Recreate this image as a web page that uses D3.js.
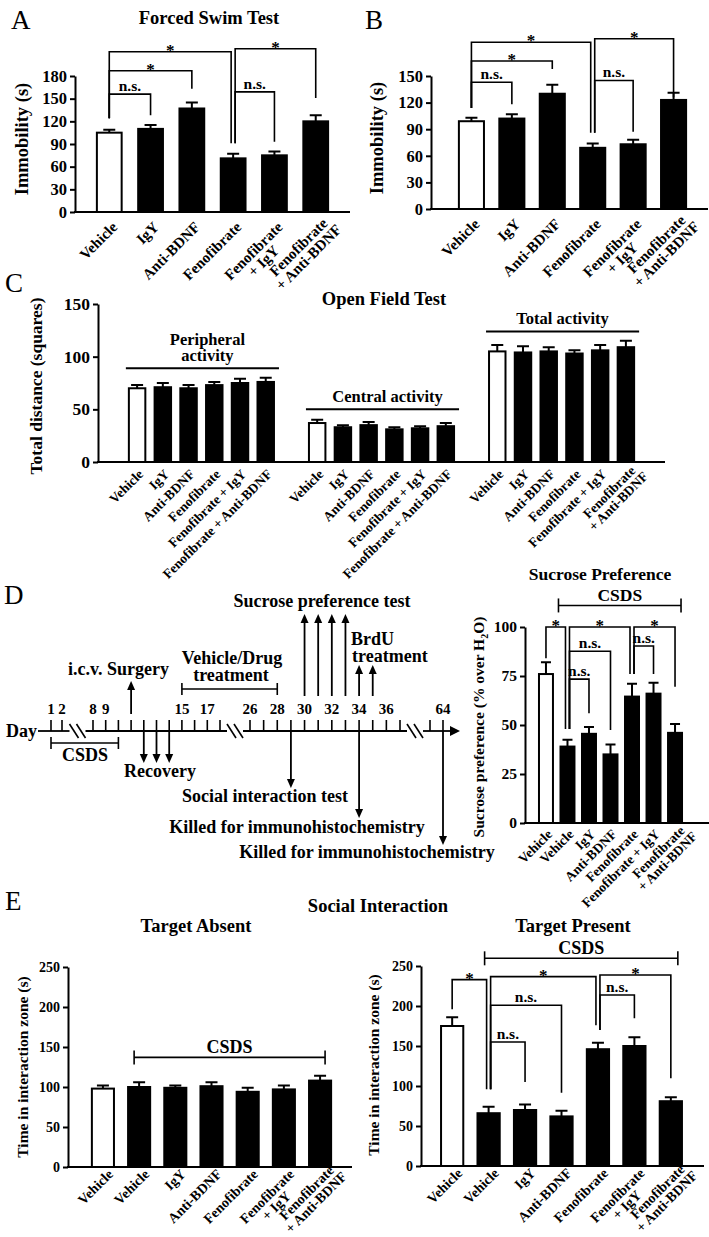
<!DOCTYPE html>
<html>
<head>
<meta charset="utf-8">
<title>Fenofibrate behaviour figure</title>
<script src="https://d3js.org/d3.v7.min.js"></script>
<style>
  body { margin: 0; background: #fff; }
  svg text { font-family: "Liberation Serif", "Times New Roman", Times, serif; font-weight: bold; fill: #000; }
  svg text.letter { font-weight: normal; }
</style>
</head>
<body>
<svg id="fig" width="709" height="1237"></svg>
<script>
// ---------- data ----------
// A / B: forced swim test
const fstLabels = ['Vehicle', 'IgY', 'Anti-BDNF', 'Fenofibrate', 'Fenofibrate\n+ IgY', 'Fenofibrate\n+ Anti-BDNF'];
const fstA = [105, 110, 137, 71, 75, 120];
const fstAErr = [4, 5, 8, 6, 5, 8];
const fstATicks = [0, 30, 60, 90, 120, 150, 180];
const fstB = [99, 102, 130, 69, 73, 123];
const fstBErr = [4, 5, 10, 5, 5, 8];
const fstBTicks = [0, 30, 60, 90, 120, 150];
// brackets: [from, to, top, left leg end, right leg end, label] (data units)
const fstABrackets = [[0, 1, 156, 124, 128, 'n.s.'], [0, 2, 187, 124, 163, '*'], [0, 3, 212, 124, 91, '*'],
                      [3, 5, 216, 91, 151, '*'], [3, 4, 159, 91, 93, 'n.s.']];
const fstBBrackets = [[0, 1, 143, 114, 118, 'n.s.'], [0, 2, 167, 114, 158, '*'], [0, 3, 188, 114, 86, '*'],
                      [3, 5, 192, 86, 126, '*'], [3, 4, 145, 86, 87, 'n.s.']];

// C: open field test
const ofLabels = ['Vehicle', 'IgY', 'Anti-BDNF', 'Fenofibrate', 'Fenofibrate + IgY', 'Fenofibrate + Anti-BDNF'];
const ofLabelsTotal = ['Vehicle', 'IgY', 'Anti-BDNF', 'Fenofibrate', 'Fenofibrate + IgY', 'Fenofibrate\n+ Anti-BDNF'];
const ofGroups = ['Peripheral\nactivity', 'Central activity', 'Total activity'];
const ofGroupLevel = [89, 50, 124];
const ofPeripheral = [70, 71, 70, 73, 75, 76];
const ofPeripheralErr = [3, 4, 3, 3, 4, 4];
const ofCentral = [37, 33, 35, 31, 32, 34];
const ofCentralErr = [3, 2, 3, 2, 2, 3];
const ofTotal = [105, 104, 105, 103, 106, 109];
const ofTotalErr = [6, 6, 4, 3, 5, 6];
const ofTicks = [0, 50, 100, 150];

// D: timeline + sucrose preference
const tlKnots = [1, 2, 8, 18, 26, 37, 63, 64];
const tlTicks = [1, 2, 8, 9, 10, 11, 12, 13, 14, 15, 16, 17, 18, 26, 27, 28, 29, 30, 31, 32, 33, 34, 35, 36, 37, 63, 64];
const tlNumbered = [1, 2, 8, 9, 15, 17, 26, 28, 30, 32, 34, 36, 64];
const tlBreaks = [[2, 8], [18, 26], [37, 63]];
const csdsDays = [1, 10];
const treatmentDays = [15, 28];
const surgeryDay = 11;
const recoveryDays = [12, 13, 14];
const sucroseDays = [30, 31, 32, 33];
const brduDays = [34, 35];
const socialDay = 29;
const killedDays = [34, 64];

const spLabels = ['Vehicle', 'Vehicle', 'IgY', 'Anti-BDNF', 'Fenofibrate', 'Fenofibrate + IgY', 'Fenofibrate\n+ Anti-BDNF'];
const sucrose = [76, 39, 45.5, 35, 64.5, 66, 46];
const sucroseErr = [6, 3.5, 3.5, 5, 6.5, 5.5, 4.5];
const spTicks = [0, 25, 50, 75, 100];
const spBrackets = [[0, 1, 100, 84, 48, '*'], [1, 4, 100, 48, 76, '*'], [4, 6, 100, 76, 69.5, '*'],
                    [1, 3, 87.6, 48, 47.5, 'n.s.'], [1, 2, 73.4, 48, 56, 'n.s.'], [4, 5, 90.3, 76, 76, 'n.s.']];

// E: social interaction
const siLabels = ['Vehicle', 'Vehicle', 'IgY', 'Anti-BDNF', 'Fenofibrate', 'Fenofibrate\n+ IgY', 'Fenofibrate\n+ Anti-BDNF'];
const siAbsent = [98, 100, 99, 101, 94, 97, 108];
const siAbsentErr = [4, 6, 3, 5, 5, 5, 6];
const siPresent = [175, 66, 70, 62, 146, 150, 81];
const siPresentErr = [11, 8, 7, 7, 8, 11, 5];
const siTicks = [0, 50, 100, 150, 200, 250];
const siBrackets = [[0, 1, 233, 196, 96, '*'], [1, 4, 236.7, 96, 176, '*'], [4, 6, 238.75, 170, 109.6, '*'],
                    [1, 3, 201, 96, 91.7, 'n.s.'], [1, 2, 155, 96, 105, 'n.s.'], [4, 5, 213.75, 170, 184.6, 'n.s.']];

// ---------- helpers ----------
const svg = d3.select('#fig');

function txt(x, y, s, size, anchor) {
  return svg.append('text').attr('x', x).attr('y', y).attr('font-size', size)
    .attr('text-anchor', anchor || 'middle').text(s);
}
function letter(x, y, s) {
  return txt(x, y, s, 27, 'start').attr('class', 'letter');
}
function yLabel(cx, cy, s, size) {
  return svg.append('text').attr('transform', `translate(${cx},${cy}) rotate(-90)`)
    .attr('text-anchor', 'middle').attr('dy', '0.35em').attr('font-size', size).text(s);
}
function hline(g, x1, x2, y, w) {
  g.append('line').attr('x1', x1).attr('x2', x2).attr('y1', y).attr('y2', y)
    .attr('stroke', '#000').attr('stroke-width', w || 2);
}
function vline(g, x, y1, y2, w) {
  g.append('line').attr('x1', x).attr('x2', x).attr('y1', y1).attr('y2', y2)
    .attr('stroke', '#000').attr('stroke-width', w || 2);
}

// rotated category labels, lines centred on each other; the first line ends at the tick
function rotLabels(g, x, items, y0, fs, dx, dy) {
  items.forEach(d => {
    const lines = d.label.split('\n');
    const c = x(d.key) + x.bandwidth() / 2;
    const lg = g.append('g').attr('transform', `translate(${c + dx},${y0 + dy}) rotate(-45)`);
    const ts = lines.map((t, i) => lg.append('text').attr('font-size', fs)
      .attr('y', i * fs * 0.95).text(t));
    const widths = ts.map(t => t.node().getComputedTextLength());
    const w = d3.max(widths);
    const shift = w - widths[0];   // longer lower line pushes the block up the slope
    ts.forEach(t => t.attr('text-anchor', 'middle').attr('x', shift - w / 2));
  });
}

function barChart(o) {
  const g = svg.append('g');
  const x = d3.scaleBand().domain(o.domain).range(o.xRange).paddingInner(o.padIn).paddingOuter(o.padOut);
  const y = d3.scaleLinear().domain([0, o.yMax]).range(o.yRange);
  const bw = x.bandwidth();
  const cx = k => x(k) + bw / 2;

  g.selectAll('path.err').data(o.items).join('path').attr('class', 'err')
    .attr('d', d => `M${cx(d.key)},${y(d.v)}V${y(d.v + d.e)}M${cx(d.key) - o.cap},${y(d.v + d.e)}h${2 * o.cap}`)
    .attr('stroke', '#000').attr('stroke-width', 2).attr('fill', 'none');
  g.selectAll('rect.bar').data(o.items).join('rect').attr('class', 'bar')
    .attr('x', d => x(d.key)).attr('y', d => y(d.v))
    .attr('width', bw).attr('height', d => y(0) - y(d.v))
    .attr('fill', d => d.open ? '#fff' : '#000').attr('stroke', '#000').attr('stroke-width', 2);

  const ya = g.append('g').attr('transform', `translate(${o.xAxis[0]},0)`)
    .call(d3.axisLeft(y).tickValues(o.ticks).tickSize(5).tickSizeOuter(0).tickPadding(3));
  ya.attr('font-size', o.tickSize);
  ya.select('.domain').attr('stroke-width', 2);
  ya.selectAll('.tick line').attr('stroke-width', 2);
  hline(g, o.xAxis[0] - 1, o.xAxis[1], y(0), 2);

  rotLabels(g, x, o.items, y(0), o.labelSize, o.labelDx, o.labelDy);
  return { g, x, y, cx };
}

function brackets(ch, keys, list) {
  const ends = new Set(list.map(b => b[1]));
  list.forEach(([i, j, top, l, r, lab]) => {
    const xl = ch.cx(keys[i]) + (ends.has(i) ? 2 : 0);
    const xr = ch.cx(keys[j]) - (list.some(b => b[0] === j) ? 2 : 0);
    ch.g.append('path').attr('d', `M${xl},${ch.y(l)}V${ch.y(top)}H${xr}V${ch.y(r)}`)
      .attr('fill', 'none').attr('stroke', '#000').attr('stroke-width', 1.6);
    const star = lab === '*';
    ch.g.append('text').attr('x', (xl + xr) / 2).attr('y', ch.y(top) + (star ? 4 : -3))
      .attr('text-anchor', 'middle').attr('font-size', star ? 17 : 15.5).text(lab);
  });
}

function rangeBracket(ch, x1, x2, v, label, fs) {
  const yy = ch.y(v);
  hline(ch.g, x1, x2, yy, 1.6);
  vline(ch.g, x1, yy - 7, yy + 7, 1.6);
  vline(ch.g, x2, yy - 7, yy + 7, 1.6);
  ch.g.append('text').attr('x', (x1 + x2) / 2).attr('y', yy - 4).attr('text-anchor', 'middle')
    .attr('font-size', fs).text(label);
}

function items(keys, labels, vals, errs) {
  return keys.map((k, i) => ({ key: k, label: labels[i], v: vals[i], e: errs[i], open: i === 0 }));
}

// ---------- A ----------
letter(11, 29, 'A');
txt(209, 24, 'Forced Swim Test', 18.5);
yLabel(22, 139, 'Immobility (s)', 18.5);
const fstKeys = fstLabels.map((d, i) => 'k' + i);
const chA = barChart({
  domain: fstKeys, items: items(fstKeys, fstLabels, fstA, fstAErr),
  xRange: [75, 350], padIn: 0.4, padOut: 0.53, xAxis: [75, 350],
  yMax: 180, yRange: [212, 76], ticks: fstATicks, tickSize: 16.5, cap: 6,
  labelSize: 15, labelDx: 9, labelDy: 16
});
brackets(chA, fstKeys, fstABrackets);

// ---------- B ----------
letter(365, 29, 'B');
yLabel(377, 138, 'Immobility (s)', 18.5);
const chB = barChart({
  domain: fstKeys, items: items(fstKeys, fstLabels, fstB, fstBErr),
  xRange: [431, 714], padIn: 0.38, padOut: 0.69, xAxis: [431, 708],
  yMax: 150, yRange: [209, 76], ticks: fstBTicks, tickSize: 16.5, cap: 6,
  labelSize: 15, labelDx: 9, labelDy: 16
});
brackets(chB, fstKeys, fstBBrackets);

// ---------- C ----------
letter(5, 292, 'C');
txt(384, 305, 'Open Field Test', 18.5);
yLabel(36, 386, 'Total distance (squares)', 17.5);
const ofSets = [[ofLabels, ofPeripheral, ofPeripheralErr], [ofLabels, ofCentral, ofCentralErr], [ofLabelsTotal, ofTotal, ofTotalErr]];
const ofDomain = [];
const ofItems = [];
ofSets.forEach(([labs, vals, errs], gi) => {
  if (gi > 0) ofDomain.push('gap' + gi);
  labs.forEach((l, i) => {
    const k = 'g' + gi + '_' + i;
    ofDomain.push(k);
    ofItems.push({ key: k, label: l, v: vals[i], e: errs[i], open: i === 0 });
  });
});
const chC = barChart({
  domain: ofDomain, items: ofItems,
  xRange: [98, 665], padIn: 0.36, padOut: 1.2, xAxis: [98, 665],
  yMax: 150, yRange: [462, 304], ticks: ofTicks, tickSize: 17.5, cap: 6,
  labelSize: 13.5, labelDx: 7, labelDy: 13
});
ofGroups.forEach((name, gi) => {
  const x1 = chC.x('g' + gi + '_0') - 3;
  const x2 = chC.x('g' + gi + '_5') + chC.x.bandwidth() + 5;
  const yy = chC.y(ofGroupLevel[gi]);
  hline(chC.g, x1, x2, yy, 2);
  const lines = name.split('\n');
  lines.forEach((l, li) => {
    chC.g.append('text').attr('x', (x1 + x2) / 2 + (gi < 2 ? 5 : 0))
      .attr('y', yy - 7 - (lines.length - 1 - li) * 16.5).attr('text-anchor', 'middle')
      .attr('font-size', 16.5).text(l);
  });
});

// ---------- D timeline ----------
letter(4, 604, 'D');
(function timeline() {
  const g = svg.append('g');
  const tx = d3.scaleLinear().domain(tlKnots).range([51, 62, 93, 220, 250, 400, 430, 443]);
  const ay = 731;
  const mids = tlBreaks.map(([a, b]) => (tx(a) + tx(b)) / 2);
  const xs = [tx(1) - 13, ...mids.flatMap(m => [m - 8, m + 8]), tx(64) + 7];
  for (let i = 0; i < xs.length; i += 2) hline(g, xs[i], xs[i + 1], ay, 1.8);
  const xe = tx(64) + 7;
  g.append('path').attr('d', `M${xe},${ay - 5}L${xe + 10},${ay}L${xe},${ay + 5}Z`).attr('fill', '#000');
  mids.forEach(m => {
    [[-8, 1], [-1, 8]].forEach(([a, b]) => g.append('line')
      .attr('x1', m + a).attr('y1', ay - 7).attr('x2', m + b).attr('y2', ay + 7)
      .attr('stroke', '#000').attr('stroke-width', 1.6));
  });
  tlTicks.forEach(d => vline(g, tx(d), ay, ay - 11, 1.6));
  tlNumbered.forEach(d => g.append('text').attr('x', tx(d)).attr('y', 714)
    .attr('text-anchor', 'middle').attr('font-size', 15).text(d));

  function arrow(x, y1, y2) {
    const dir = y2 < y1 ? -1 : 1;
    vline(g, x, y1, y2 - dir * 8, 1.8);
    g.append('path').attr('d', `M${x - 4},${y2 - dir * 9}L${x},${y2}L${x + 4},${y2 - dir * 9}Z`).attr('fill', '#000');
  }
  function bracketH(d1, d2, yy) {
    hline(g, tx(d1), tx(d2), yy, 1.6);
    vline(g, tx(d1), yy - 6, yy + 6, 1.6);
    vline(g, tx(d2), yy - 6, yy + 6, 1.6);
  }
  const T = (x, y, s, a) => g.append('text').attr('x', x).attr('y', y).attr('font-size', 18)
    .attr('text-anchor', a || 'middle').text(s);

  T(6, 737, 'Day', 'start');
  arrow(tx(surgeryDay), 714, 681);
  T(68, 675, 'i.c.v. Surgery', 'start');
  bracketH(treatmentDays[0], treatmentDays[1], 689);
  T(232, 664, 'Vehicle/Drug');
  T(231, 681, 'treatment');
  sucroseDays.forEach(d => arrow(tx(d), 696, 614));
  T(322, 607, 'Sucrose preference test');
  brduDays.forEach(d => arrow(tx(d), 696, 665));
  T(351, 645, 'BrdU', 'start');
  T(352, 662, 'treatment', 'start');
  bracketH(csdsDays[0], csdsDays[1], 743);
  T(85, 761, 'CSDS');
  recoveryDays.forEach(d => arrow(tx(d), ay, 763));
  T(160, 777, 'Recovery');
  arrow(tx(socialDay), ay, 788);
  T(265, 802, 'Social interaction test');
  arrow(tx(killedDays[0]), ay, 818);
  T(297, 833, 'Killed for immunohistochemistry');
  arrow(tx(killedDays[1]), ay, 845);
  T(367, 858, 'Killed for immunohistochemistry');
})();

// ---------- D sucrose preference ----------
txt(600, 580, 'Sucrose Preference', 17.5);
const spY = svg.append('text').attr('transform', 'translate(479,727) rotate(-90)')
  .attr('text-anchor', 'middle').attr('dy', '0.35em').attr('font-size', 15.5);
spY.append('tspan').text('Sucrose preference (% over H');
spY.append('tspan').attr('font-size', 10).attr('dy', 4).text('2');
spY.append('tspan').attr('dy', -4).text('O)');
const spKeys = spLabels.map((d, i) => 's' + i);
const chD = barChart({
  domain: spKeys, items: items(spKeys, spLabels, sucrose, sucroseErr),
  xRange: [525, 696], padIn: 0.35, padOut: 0.65, xAxis: [525, 709],
  yMax: 100, yRange: [823, 627], ticks: spTicks, tickSize: 15.5, cap: 5,
  labelSize: 13.5, labelDx: 7, labelDy: 12
});
brackets(chD, spKeys, spBrackets);
rangeBracket(chD, chD.cx(spKeys[1]) - 9, chD.cx(spKeys[6]) + 6, 111, 'CSDS', 17.5);

// ---------- E ----------
letter(5, 910, 'E');
txt(378, 912, 'Social Interaction', 18.5);
txt(196, 932, 'Target Absent', 18.5);
txt(573, 932, 'Target Present', 18.5);
yLabel(23, 1067, 'Time in interaction zone (s)', 15.5);
yLabel(374, 1065, 'Time in interaction zone (s)', 15.5);
const siKeys = siLabels.map((d, i) => 'e' + i);
const chE1 = barChart({
  domain: siKeys, items: items(siKeys, siLabels, siAbsent, siAbsentErr),
  xRange: [68, 355], padIn: 0.39, padOut: 0.66, xAxis: [68, 352],
  yMax: 250, yRange: [1167, 967], ticks: siTicks, tickSize: 14, cap: 6,
  labelSize: 14, labelDx: 11, labelDy: 8
});
rangeBracket(chE1, chE1.cx(siKeys[1]) - 5, chE1.cx(siKeys[6]) + 5, 137, 'CSDS', 18);
const chE2 = barChart({
  domain: siKeys, items: items(siKeys, siLabels, siPresent, siPresentErr),
  xRange: [421, 702], padIn: 0.39, padOut: 0.55, xAxis: [421, 704],
  yMax: 250, yRange: [1166, 966], ticks: siTicks, tickSize: 14, cap: 6,
  labelSize: 14, labelDx: 11, labelDy: 8
});
brackets(chE2, siKeys, siBrackets);
rangeBracket(chE2, chE2.cx(siKeys[1]) - 4, chE2.cx(siKeys[6]) + 7, 259.6, 'CSDS', 18);
</script>
</body>
</html>
